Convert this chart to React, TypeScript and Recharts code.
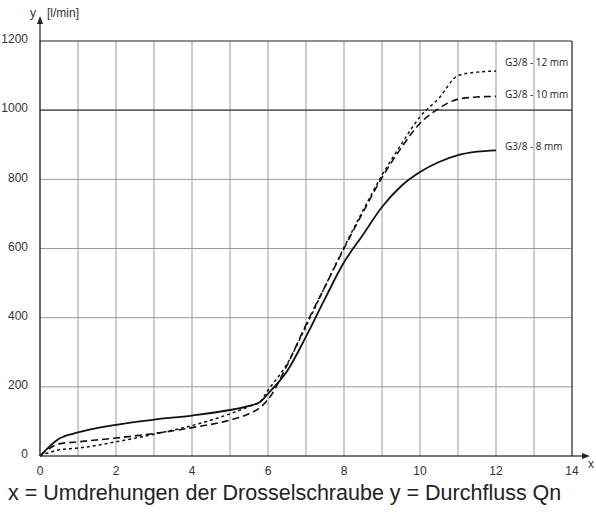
import React from 'react';
import { CartesianGrid, LabelList, Line, LineChart, ReferenceLine, XAxis, YAxis } from 'recharts';

// Umdrehungen der Drosselschraube
const turns = [0, 0.5, 1, 2, 3, 4, 5, 5.5, 5.8, 6, 6.5, 7, 7.5, 8, 8.5, 9, 9.5, 10, 10.5, 11, 11.5, 12];

// Durchfluss Qn [l/min]
const flow8mm = [0, 50, 68, 90, 105, 117, 133, 145, 157, 180, 245, 345, 455, 560, 640, 720, 780, 821, 850, 870, 880, 884];
const flow10mm = [0, 35, 41, 52, 65, 82, 104, 122, 141, 163, 262, 380, 490, 600, 705, 805, 890, 962, 1005, 1032, 1038, 1040];
const flow12mm = [0, 18, 23, 41, 63, 88, 122, 143, 158, 190, 266, 375, 490, 603, 710, 812, 900, 981, 1035, 1100, 1110, 1113];

const xTicks = [0, 1, 2, 3, 4, 5, 6, 7, 8, 9, 10, 11, 12, 13, 14];
const yTicks = [0, 200, 400, 600, 800, 1000, 1200];

const seriesNames = { g8: 'G3/8 - 8 mm', g10: 'G3/8 - 10 mm', g12: 'G3/8 - 12 mm' };

const data = turns.map((t, i) => ({
  t,
  g8: flow8mm[i],
  g10: flow10mm[i],
  g12: flow12mm[i],
}));

const last = turns.length - 1;

const endLabel = (name: string, dy: number) => (props: any) => {
  const { x, y, index } = props;
  if (index !== last) return null;
  return (
    <text x={x + 9} y={y + dy} fontSize={10} fontFamily="'Open Sans', sans-serif" fill="#222" dominantBaseline="middle">
      {name}
    </text>
  );
};

const App = () => {
  return (
    <div style={{ position: 'absolute', left: 0, top: 0, width: 596, height: 514, background: '#fff' }}>
      <LineChart
        width={596}
        height={514}
        data={data}
        margin={{ top: 41, right: 24, bottom: 28, left: 0 }}
      >
        <CartesianGrid stroke="#999" strokeWidth={1} />
        <XAxis
          dataKey="t"
          type="number"
          domain={[0, 14]}
          ticks={xTicks}
          interval={0}
          tickFormatter={(v: number) => (v % 2 === 0 ? String(v) : '')}
          tickLine={false}
          axisLine={{ stroke: '#222', strokeWidth: 1.2 }}
          tick={{ fill: '#333', fontSize: 12, fontFamily: "'Liberation Sans', Arial, sans-serif" }}
          tickMargin={4}
          height={30}
        />
        <YAxis
          type="number"
          domain={[0, 1200]}
          ticks={yTicks}
          interval={0}
          tickLine={false}
          axisLine={{ stroke: '#222', strokeWidth: 1.2 }}
          tick={{ fill: '#333', fontSize: 12, fontFamily: "'Liberation Sans', Arial, sans-serif", dy: -2 }}
          tickMargin={6}
          width={40}
        />
        <ReferenceLine y={1000} stroke="#444" strokeWidth={1.2} />
        <ReferenceLine y={1200} stroke="#555" strokeWidth={1} />
        <ReferenceLine x={14} stroke="#444" strokeWidth={1.2} />
        <Line
          type="monotone"
          dataKey="g8"
          stroke="#111"
          strokeWidth={1.8}
          dot={false}
          isAnimationActive={false}
        >
          <LabelList dataKey="g8" content={endLabel(seriesNames.g8, -3)} />
        </Line>
        <Line
          type="monotone"
          dataKey="g10"
          stroke="#111"
          strokeWidth={1.6}
          strokeDasharray="7 4"
          dot={false}
          isAnimationActive={false}
        >
          <LabelList dataKey="g10" content={endLabel(seriesNames.g10, -1)} />
        </Line>
        <Line
          type="monotone"
          dataKey="g12"
          stroke="#111"
          strokeWidth={1.5}
          strokeDasharray="3 3"
          dot={false}
          isAnimationActive={false}
        >
          <LabelList dataKey="g12" content={endLabel(seriesNames.g12, -8)} />
        </Line>
      </LineChart>

      {/* axis arrows and axis letters */}
      <svg
        width={596}
        height={514}
        style={{ position: 'absolute', left: 0, top: 0, pointerEvents: 'none' }}
        fontFamily="'Liberation Sans', Arial, sans-serif"
      >
        <line x1={40} y1={41} x2={40} y2={22} stroke="#222" strokeWidth={1.2} />
        <polygon points="40,16 37,24 43,24" fill="#222" />
        <line x1={572} y1={456} x2={584} y2={456} stroke="#222" strokeWidth={1.2} />
        <polygon points="590,456 582,453 582,459" fill="#222" />
        <text x={33} y={17} fontSize={12} fill="#333" textAnchor="middle">y</text>
        <text x={47} y={17} fontSize={12} fill="#333">[l/min]</text>
        <text x={591} y={468} fontSize={12} fill="#333" textAnchor="middle">x</text>
      </svg>

      <div
        style={{
          position: 'absolute',
          left: 8,
          top: 480,
          fontFamily: "'Liberation Sans', Arial, sans-serif",
          fontSize: 21.5,
          color: '#222',
          whiteSpace: 'nowrap',
          lineHeight: '26px',
        }}
      >
        x = Umdrehungen der Drosselschraube y = Durchfluss Qn
      </div>
    </div>
  );
};

export default App;
